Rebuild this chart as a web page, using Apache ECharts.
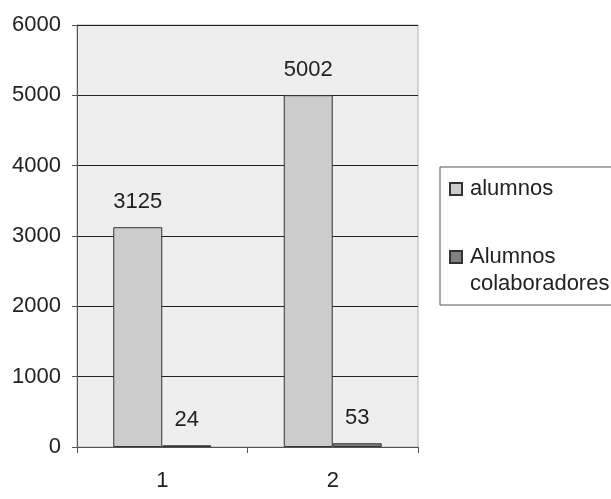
<!DOCTYPE html>
<html>
<head>
<meta charset="utf-8">
<script src="https://cdn.jsdelivr.net/npm/echarts@6/dist/echarts.min.js"></script>
<style>
  html, body { margin: 0; padding: 0; background: #fff; }
  #chart { width: 611px; height: 499px; }
</style>
</head>
<body>
<div id="chart"></div>
<script>
const categories = ['1', '2']
const alumnos = [3125, 5002]
const colaboradores = [24, 53]
const seriesNames = ['alumnos', 'Alumnos colaboradores']

const FONT = '"Liberation Sans", Arial, sans-serif'
const chart = echarts.init(document.getElementById('chart'))

const label = {
  show: true, position: 'top', distance: 14,
  fontFamily: FONT, fontSize: 22, color: '#222',
}

chart.setOption({
  animation: false,
  textStyle: { fontFamily: FONT },
  grid: {
    left: 77, right: 193, top: 25, bottom: 52,
    show: true, backgroundColor: '#eeeeee', borderColor: '#b0b0b0', borderWidth: 1,
  },
  legend: {
    orient: 'vertical', left: 440, top: 167,
    padding: [11, 24, 10, 9],
    borderColor: '#555', borderWidth: 1, backgroundColor: '#fff',
    itemWidth: 12, itemHeight: 12, itemGap: 19,
    icon: 'rect',
    textStyle: {
      fontFamily: FONT, fontSize: 22, color: '#222',
      rich: {
        a: { fontFamily: FONT, fontSize: 22, color: '#222', lineHeight: 27, padding: [0, 0, 0, 3] },
        p: { lineHeight: 27, fontSize: 22 },
      },
    },
    // second entry: blank first line keeps the icon level with "Alumnos"
    formatter: n => n === seriesNames[1]
      ? '{p| }\n{a|Alumnos}\n{a|colaboradores}'
      : '{a|' + n + '}',
    data: seriesNames,
  },
  xAxis: {
    type: 'category', data: categories,
    axisLine: { lineStyle: { color: '#555', width: 1 } },
    axisTick: { show: true, length: 6, lineStyle: { color: '#555' } },
    axisLabel: { fontFamily: FONT, fontSize: 22, color: '#222', margin: 23 },
  },
  yAxis: {
    type: 'value', min: 0, max: 6000, interval: 1000,
    axisLine: { show: true, lineStyle: { color: '#555', width: 1 } },
    axisTick: { show: true, length: 5, lineStyle: { color: '#555' } },
    axisLabel: { fontFamily: FONT, fontSize: 22, color: '#222', margin: 16, formatter: v => String(v) },
    splitLine: { lineStyle: { color: '#222', width: 1 } },
  },
  series: [
    {
      name: seriesNames[0], type: 'bar', data: alumnos,
      barWidth: 49, barGap: '0%',
      itemStyle: { color: '#cccccc', borderColor: '#333', borderWidth: 1 },
      label,
    },
    {
      name: seriesNames[1], type: 'bar', data: colaboradores,
      barWidth: 49, barGap: '0%',
      itemStyle: { color: '#808080', borderColor: '#333', borderWidth: 1 },
      label,
    },
  ],
})
</script>
</body>
</html>
